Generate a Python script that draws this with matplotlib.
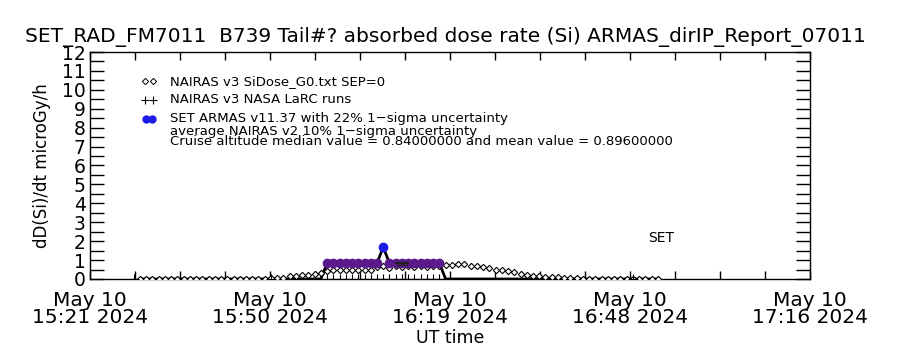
import numpy as np
import matplotlib
matplotlib.use("Agg")
import matplotlib.pyplot as plt
from matplotlib.ticker import MultipleLocator

# time axis: minutes after 15:21:30 UT, 10 May 2024
tick_minutes = [0.0, 28.85, 57.7, 86.55, 115.4]
tick_labels = ["May 10\n15:21 2024", "May 10\n15:50 2024", "May 10\n16:19 2024",
               "May 10\n16:48 2024", "May 10\n17:16 2024"]

# NAIRAS v3 SiDose_G0 (1-min cadence, starting at minute 8)
nairas_start = 8
nairas_dose = [0.01, 0.01, 0.01, 0.01, 0.01, 0.01, 0.01, 0.01, 0.01, 0.01,
               0.01, 0.01, 0.01, 0.01, 0.01, 0.01, 0.01, 0.02, 0.02, 0.02,
               0.02, 0.03, 0.04, 0.06, 0.15, 0.18, 0.2, 0.23, 0.27, 0.33,
               0.43, 0.47, 0.45, 0.47, 0.45, 0.5, 0.48, 0.5, 0.65, 0.67,
               0.6, 0.67, 0.65, 0.68, 0.65, 0.67, 0.65, 0.67, 0.68, 0.72,
               0.72, 0.78, 0.78, 0.7, 0.67, 0.63, 0.57, 0.5, 0.45, 0.41,
               0.35, 0.27, 0.22, 0.17, 0.15, 0.12, 0.1, 0.08, 0.06, 0.04,
               0.03, 0.02, 0.02, 0.02, 0.01, 0.01, 0.01, 0.01, 0.01, 0.01,
               0.01, 0.01, 0.01, 0.01]

# SET ARMAS v11.37 (1-min cadence, starting at minute 8)
set_start = 8
set_dose = [0.0] * 30 + [0.84, 0.84, 0.84, 0.84, 0.84, 0.84, 0.84, 0.84, 0.84,
                         1.68, 0.84, 0.84, 0.84, 0.84, 0.84, 0.84, 0.84, 0.84,
                         0.84] + [0.0] * 35
set_cruise = [38, 39, 40, 41, 42, 43, 44, 45, 46, 48, 49, 50, 51, 52, 53, 54, 55, 56]
set_peak = [47]

# NAIRAS v3 NASA LaRC runs
larc_minutes = [7, 29, 38, 39, 40, 41, 42, 43, 44, 45, 46, 47, 48, 49, 50, 51,
                52, 53, 54, 55, 56, 87]
larc_dose = [0.0] * 22

# average NAIRAS v2 at cruise with 10% uncertainty
avg_minute = [50]
avg_dose = [0.84]

purple = "#5b1a8c"
blue = "#1c1ce6"

plt.rcParams["font.family"] = ["DejaVu Sans"]

fig = plt.figure(figsize=(9, 3.5), dpi=100)
ax = fig.add_axes([0.1, 0.2029, 0.8, 0.6485])

nt = nairas_start + np.arange(len(nairas_dose))
st = set_start + np.arange(len(set_dose))
set_arr = np.array(set_dose)

ax.plot(st, set_arr, color="black", lw=1.0, zorder=2)
ax.plot(st, set_arr, color="black", lw=2.0, zorder=2,
        solid_capstyle="butt")
ax.plot(nt, nairas_dose, ls="none", marker="D", ms=3.2, mfc="white",
        mec="black", mew=0.8, zorder=3)
ax.plot(larc_minutes, larc_dose, ls="none", marker="+", ms=7, color="black",
        mew=0.8, zorder=3)
ax.plot(set_cruise, set_arr[np.array(set_cruise) - set_start], ls="none",
        marker="o", ms=6, color=purple, zorder=4)
ax.plot(set_peak, set_arr[np.array(set_peak) - set_start], ls="none",
        marker="o", ms=6, color=blue, zorder=4)
ax.errorbar(avg_minute, avg_dose, yerr=[0.084], fmt="none", ecolor="#222222",
            elinewidth=1.0, capsize=4, zorder=5)
ax.plot([avg_minute[0] - 1, avg_minute[0] + 1], [avg_dose[0], avg_dose[0]],
        color="#222222", lw=1.5, zorder=5)

ax.set_xlim(0, 115.4)
ax.set_ylim(0, 12)
ax.set_xticks(tick_minutes)
ax.set_xticklabels(tick_labels, fontsize=14.5, linespacing=0.85)
ax.xaxis.set_minor_locator(MultipleLocator(28.85 / 4))
ax.yaxis.set_major_locator(MultipleLocator(1))
ax.yaxis.set_minor_locator(MultipleLocator(0.5))
ax.tick_params(axis="y", labelsize=13.5, pad=3)
ax.tick_params(which="both", direction="in", top=True, right=True,
               length=6, width=1)
ax.tick_params(axis="y", which="both", length=10)
ax.tick_params(axis="x", pad=9)
for sp in ax.spines.values():
    sp.set_linewidth(1)

ax.set_xlabel("UT time", fontsize=12.5, labelpad=1)
ax.set_ylabel("dD(Si)/dt microGy/h", fontsize=12, labelpad=8)
fig.text(0.495, 0.893,
         "SET_RAD_FM7011  B739 Tail#? absorbed dose rate (Si) ARMAS_dirIP_Report_07011",
         ha="center", va="center", fontsize=14.5)

# legend drawn by hand
tr = ax.transAxes
ax.plot([0.077, 0.087], [0.872, 0.872], ls="none", marker="D", ms=3.2,
        mfc="white", mec="black", mew=0.7, transform=tr, clip_on=False)
ax.plot([0.077, 0.087], [0.789, 0.789], ls="none", marker="+", ms=6,
        color="black", mew=0.8, transform=tr, clip_on=False)
ax.plot([0.078, 0.086], [0.705, 0.705], ls="none", marker="o", ms=5,
        color=blue, transform=tr, clip_on=False)
leg_txt = ["NAIRAS v3 SiDose_G0.txt SEP=0",
           "NAIRAS v3 NASA LaRC runs",
           "SET ARMAS v11.37 with 22% 1\u2212sigma uncertainty",
           "average NAIRAS v2 10% 1\u2212sigma uncertainty",
           "Cruise altitude median value = 0.84000000 and mean value = 0.89600000"]
leg_y = [0.872, 0.789, 0.705, 0.650, 0.606]
for s, y in zip(leg_txt, leg_y):
    ax.text(0.111, y, s, transform=tr, fontsize=9.5, va="center", ha="left")
ax.text(0.793, 0.18, "SET", transform=tr, fontsize=10, ha="center",
        va="center")

fig.savefig("out.png", dpi=100)
